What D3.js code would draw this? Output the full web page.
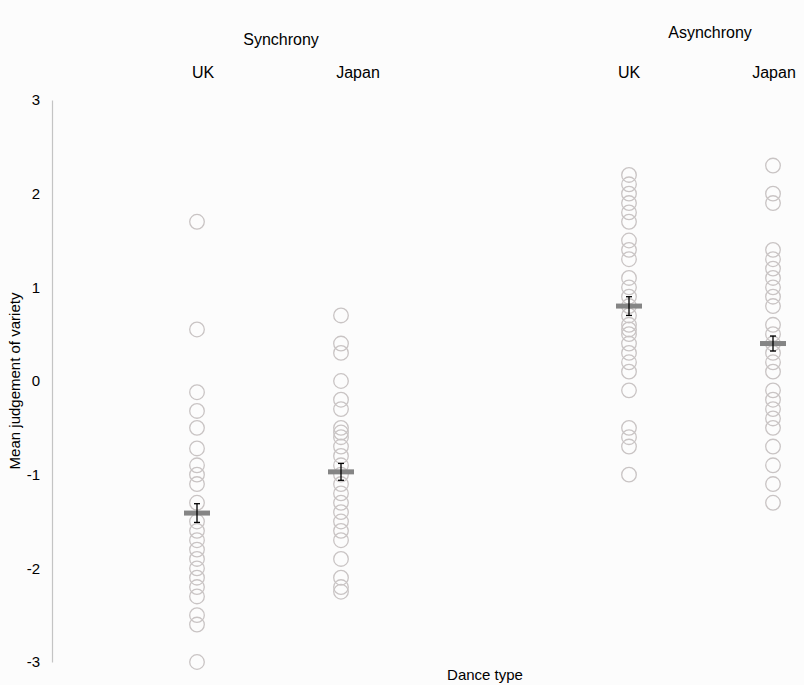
<!DOCTYPE html>
<html><head><meta charset="utf-8">
<script src="https://cdn.jsdelivr.net/npm/d3@7"></script>
<style>body{margin:0;background:#fcfcfc;} svg{display:block;font-family:"Liberation Sans",Arial,sans-serif;}</style>
</head><body>
<script>
const groups = ["Synchrony", "Asynchrony"];
const countries = ["UK", "Japan"];
const yTicks = [3, 2, 1, 0, -1, -2, -3];
const syncUK = [1.7,0.55,-0.12,-0.32,-0.5,-0.72,-0.9,-1.0,-1.1,-1.3,-1.5,-1.6,-1.7,-1.8,-1.9,-2.0,-2.1,-2.2,-2.3,-2.5,-2.6,-3.0];
const syncJapan = [0.7,0.4,0.3,0,-0.2,-0.3,-0.5,-0.55,-0.6,-0.7,-0.8,-0.9,-1.0,-1.1,-1.2,-1.3,-1.4,-1.5,-1.6,-1.7,-1.9,-2.1,-2.2,-2.25];
const asyncUK = [2.2,2.1,2.0,1.9,1.8,1.7,1.5,1.4,1.3,1.1,1.0,0.9,0.8,0.7,0.6,0.55,0.5,0.4,0.3,0.2,0.1,-0.1,-0.5,-0.6,-0.7,-1.0];
const asyncJapan = [2.3,2.0,1.9,1.4,1.3,1.2,1.1,1.0,0.9,0.8,0.6,0.5,0.4,0.3,0.2,0.1,-0.1,-0.2,-0.3,-0.4,-0.5,-0.7,-0.9,-1.1,-1.3];
const means = [-1.41, -0.97, 0.8, 0.4];
const ses = [0.1, 0.09, 0.1, 0.08];
const slots = ["S-UK","S-Japan","gap","A-UK","A-Japan"];
const seriesKeys = ["S-UK","S-Japan","A-UK","A-Japan"];
const seriesVals = [syncUK, syncJapan, asyncUK, asyncJapan];

const W = 804, H = 685;
const FS = 15;
const svg = d3.select("body").append("svg").attr("width", W).attr("height", H);
svg.append("rect").attr("width", W).attr("height", H).attr("fill", "#fcfcfc");

const y = d3.scaleLinear().domain([-3, 3]).range([662, 100]);
const x = d3.scalePoint().domain(slots).range([197, 773]);

// y axis
const yAxis = d3.axisLeft(y).tickValues(yTicks).tickSize(0).tickPadding(12).tickFormat(d => String(d));
const ga = svg.append("g").attr("transform", "translate(52,0)").call(yAxis);
ga.select(".domain").attr("stroke", "#c4c4c4").attr("stroke-width", 1.2);
ga.selectAll("text").attr("font-size", FS).attr("fill", "#000").attr("font-family", "Liberation Sans, Arial, sans-serif");

svg.append("text").attr("transform", "translate(20,381) rotate(-90)").attr("text-anchor", "middle")
  .attr("font-size", FS).text("Mean judgement of variety");
svg.append("text").attr("x", 485).attr("y", 680).attr("text-anchor", "middle").attr("font-size", FS).text("Dance type");

// group labels
svg.append("text").attr("x", 281).attr("y", 45).attr("text-anchor", "middle").attr("font-size", 16).text(groups[0]);
svg.append("text").attr("x", 710).attr("y", 38).attr("text-anchor", "middle").attr("font-size", 16).text(groups[1]);
const labelX = [203, 358, 629, 774];
seriesKeys.forEach((k, i) => {
  svg.append("text").attr("x", labelX[i]).attr("y", 78).attr("text-anchor", "middle")
    .attr("font-size", 16).text(countries[i % 2]);
});

// points
seriesKeys.forEach((k, i) => {
  svg.append("g").selectAll("circle").data(seriesVals[i]).join("circle")
    .attr("cx", x(k)).attr("cy", d => y(d)).attr("r", 7.3)
    .attr("fill", "none").attr("stroke", "#c9c4c4").attr("stroke-width", 1.3);
});

// mean + error bars
seriesKeys.forEach((k, i) => {
  const cx = x(k), m = means[i], s = ses[i];
  svg.append("rect").attr("x", cx - 13).attr("y", y(m) - 2.5).attr("width", 26).attr("height", 5).attr("fill", "#858585");
  const g = svg.append("g").attr("stroke", "#000").attr("stroke-width", 1.3);
  g.append("line").attr("x1", cx).attr("x2", cx).attr("y1", y(m + s)).attr("y2", y(m - s));
  g.append("line").attr("x1", cx - 3).attr("x2", cx + 3).attr("y1", y(m + s)).attr("y2", y(m + s));
  g.append("line").attr("x1", cx - 3).attr("x2", cx + 3).attr("y1", y(m - s)).attr("y2", y(m - s));
});
</script>
</body></html>
